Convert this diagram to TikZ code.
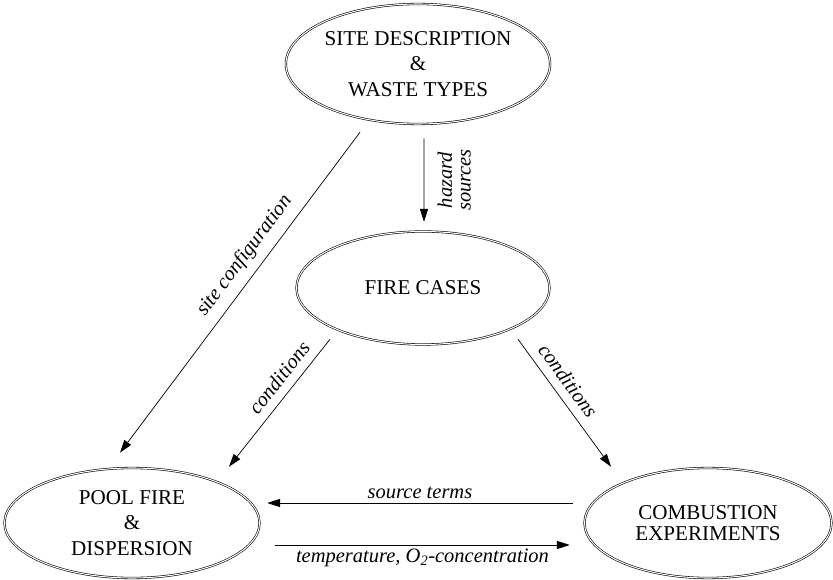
\documentclass[tikz,border=0pt]{standalone}
\usepackage{fontspec}
\setmainfont{Liberation Serif}
\usetikzlibrary{arrows.meta, shapes.geometric}

\begin{document}
\begin{tikzpicture}[
    topic/.style={ellipse, draw=black, line width=0.5pt, double, double distance=0.9pt,
        inner sep=0pt, align=center, font=\fontsize{18}{21.5}\selectfont},
    arrow/.style={-{Triangle[length=11pt, width=7pt]}, line width=0.6pt},
    lbl/.style={font=\fontsize{17.5}{16}\selectfont\itshape}
]
    \useasboundingbox (0, 0) rectangle (24.99, 17.37);

    % --- Nodes ---
    \node[topic, minimum width=7.32cm, minimum height=3.6cm] (site) at (12.54, 15.45)
        {SITE DESCRIPTION\\\&\\WASTE TYPES};
    \node[topic, minimum width=7.59cm, minimum height=3.39cm] (fire) at (12.69, 8.73)
        {FIRE CASES};
    \node[topic, minimum width=7.65cm, minimum height=3.3cm] (pool) at (3.96, 1.68)
        {POOL FIRE\\\&\\DISPERSION};
    \node[topic, minimum width=7.41cm, minimum height=3.3cm] (comb) at (21.24, 1.68)
        {COMBUSTION\\[-4pt]EXPERIMENTS};

    % --- Arrows from the site ---
    \draw[arrow] ([xshift=0.18cm, yshift=-0.42cm]site.south) -- ([xshift=0.03cm, yshift=0.285cm]fire.north)
        node[lbl, midway, rotate=90, anchor=north, align=center, inner ysep=0.4cm] (haz) {hazard\\sources};
    \draw[arrow] ([xshift=-1.74cm, yshift=-0.24cm]site.south) -- ([xshift=-0.36cm, yshift=0.45cm]pool.north)
        node[lbl, pos=0.42, sloped, above=4pt] (conf) {site configuration};

    % --- Arrows from the fire cases ---
    \draw[arrow] ([xshift=-2.79cm, yshift=0.165cm]fire.south) -- ([xshift=2.91cm, yshift=0.03cm]pool.north)
        node[lbl, pos=0.38, sloped, above=4pt] (condl) {conditions};
    \draw[arrow] ([xshift=2.85cm, yshift=0.165cm]fire.south) -- ([xshift=-2.91cm, yshift=0.03cm]comb.north)
        node[lbl, pos=0.4, sloped, above=4pt] (condr) {conditions};

    % --- Exchange between the two models ---
    \draw[arrow] ([xshift=-0.345cm, yshift=0.6cm]comb.west) -- ([xshift=0.225cm, yshift=0.6cm]pool.east)
        node[lbl, midway, above] (src) {source terms};
    \draw[arrow] ([xshift=0.465cm, yshift=-0.66cm]pool.east) -- ([xshift=-0.435cm, yshift=-0.66cm]comb.west)
        node[lbl, midway, below] (temp) {temperature, O\textsubscript{2}-concentration};

\end{tikzpicture}
\end{document}
